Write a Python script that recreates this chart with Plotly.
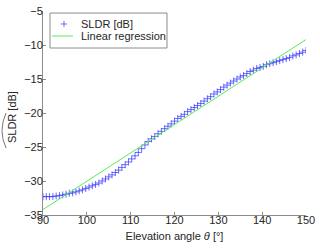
import plotly.graph_objects as go

# Elevation angle (deg) and SLDR values (dB)
theta = [90 + 0.75 * i for i in range(81)]
sldr = [-32.3, -32.3, -32.3, -32.3, -32.2, -32.15, -32.05, -31.95, -31.8, -31.75,
        -31.6, -31.45, -31.3, -31.1, -30.9, -30.7, -30.5, -30.3, -30.0, -29.7,
        -29.4, -29.1, -28.75, -28.4, -28.0, -27.6, -27.2, -26.75, -26.3, -25.8,
        -25.25, -24.7, -24.2, -23.8, -23.45, -23.05, -22.7, -22.3, -21.95, -21.6,
        -21.2, -20.8, -20.5, -20.2, -19.8, -19.5, -19.2, -18.9, -18.6, -18.25,
        -17.9, -17.6, -17.2, -16.9, -16.55, -16.2, -15.9, -15.6, -15.3, -15.0,
        -14.7, -14.5, -14.2, -13.9, -13.7, -13.45, -13.3, -13.15, -12.9, -12.75,
        -12.6, -12.45, -12.3, -12.15, -12.0, -11.85, -11.6, -11.45, -11.25, -11.05,
        -10.8]

# Linear regression line endpoints
reg_theta = [90, 150]
reg_sldr = [-34.2, -9.2]

x_ticks = [90, 100, 110, 120, 130, 140, 150]
y_ticks = [-35, -30, -25, -20, -15, -10, -5]

series_names = ["SLDR [dB]", "Linear regression"]
y_title = "SLDR [dB]"

font = dict(family="Liberation Sans, Arial, sans-serif", size=11, color="#262626")
axis_col = "#8c8c8c"
mk_col = "rgba(50,50,255,0.7)"
line_col = "#55ee55"

fig = go.Figure()
fig.add_trace(go.Scatter(
    x=theta, y=sldr, mode="markers", name=series_names[0], showlegend=False,
    marker=dict(symbol="cross-thin", size=5, color=mk_col,
                line=dict(width=1, color=mk_col)),
))
fig.add_trace(go.Scatter(
    x=reg_theta, y=reg_sldr, mode="lines", name=series_names[1], showlegend=False,
    line=dict(color=line_col, width=1),
))

fig.update_layout(
    width=320, height=251,
    margin=dict(l=43, r=14, t=11, b=36),
    paper_bgcolor="white", plot_bgcolor="white",
    font=font,
    xaxis=dict(range=[90, 150], tickvals=x_ticks, ticks="inside", ticklen=3,
               tickcolor=axis_col, showline=True, linecolor=axis_col,
               showgrid=False, zeroline=False, automargin=False,
               ticklabelstandoff=-5, ticklabeloverflow="allow",
               title=dict(text="Elevation angle <i>θ</i> [°]", standoff=7,
                          font=dict(size=11))),
    yaxis=dict(range=[-35, -5], tickvals=y_ticks, ticks="inside", ticklen=3,
               tickcolor=axis_col, showline=True, linecolor=axis_col,
               showgrid=False, zeroline=False, automargin=False,
               ticklabelstandoff=-3, ticklabeloverflow="allow"),
)

P = dict(xref="paper", yref="paper")

# y-axis title with a wide hat over "SLDR"
fig.add_annotation(text=y_title, x=-0.118, y=0.48, textangle=-90,
                   xanchor="center", yanchor="middle", showarrow=False,
                   font=dict(size=11, color="#262626"), **P)
fig.add_shape(type="path", path="M -0.1405,0.50 Q -0.1715,0.414 -0.1405,0.328",
              line=dict(color="#555555", width=0.8), **P)

# compact legend box (MATLAB style)
fig.add_shape(type="rect", x0=0.0266, x1=0.4715, y0=0.8186, y1=0.990,
              line=dict(color=axis_col, width=1), fillcolor="white", **P)
fig.add_shape(type="line", x0=0.068, x1=0.091, y0=0.9363, y1=0.9363,
              line=dict(color=mk_col, width=1), **P)
fig.add_shape(type="line", x0=0.0798, x1=0.0798, y0=0.922, y1=0.951,
              line=dict(color=mk_col, width=1), **P)
fig.add_shape(type="line", x0=0.0342, x1=0.114, y0=0.8775, y1=0.8775,
              line=dict(color=line_col, width=1), **P)
for name, yy in zip(series_names, [0.9363, 0.8775]):
    fig.add_annotation(text=name, x=0.1369, y=yy, xanchor="left", yanchor="middle",
                       showarrow=False, font=dict(size=11, color="#262626"), **P)

fig.write_html("out.html", config={"displayModeBar": False},
               post_script="document.body.style.margin='0px';")
